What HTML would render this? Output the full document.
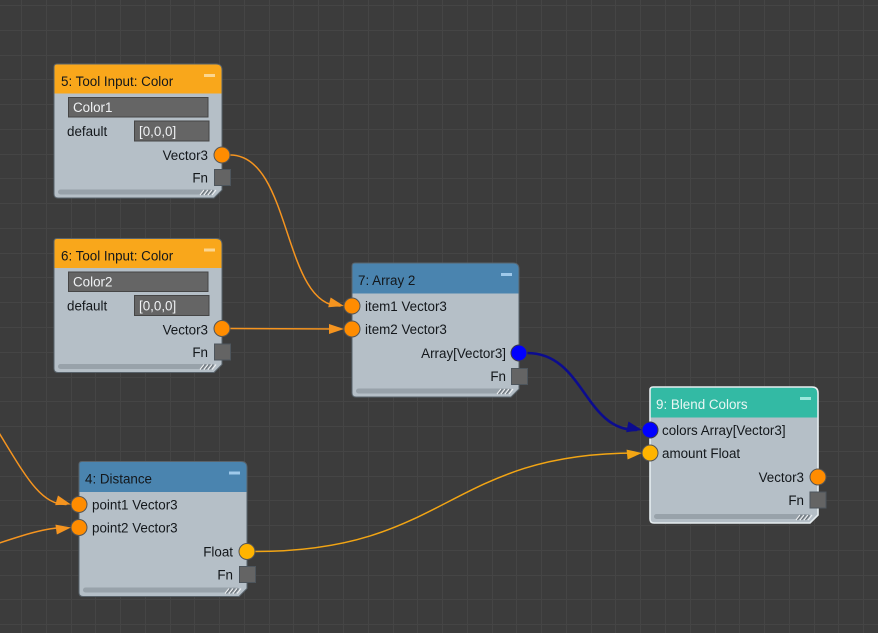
<!DOCTYPE html>
<html>
<head>
<meta charset="utf-8">
<style>
  html,body{margin:0;padding:0;background:#3c3c3c;}
  svg{display:block;}
  text{font-family:"Liberation Sans",Arial,sans-serif;font-size:13.4px;fill:#13171b;}
  .fld{fill:#f0f2f4;}
  .lt{fill:#eaf6f4;}
</style>
</head>
<body>
<svg width="878" height="633" viewBox="0 0 878 633" xmlns="http://www.w3.org/2000/svg">
  <rect x="0" y="0" width="878" height="633" fill="#3c3c3c"/>
  <g stroke="#454545" stroke-width="1" shape-rendering="crispEdges" fill="none">
    <path d="M21.5,0V633 M46.5,0V633 M71.5,0V633 M95.5,0V633 M120.5,0V633 M145.5,0V633 M170.5,0V633 M194.5,0V633 M219.5,0V633 M244.5,0V633 M269.5,0V633 M293.5,0V633 M318.5,0V633 M343.5,0V633 M368.5,0V633 M393.5,0V633 M417.5,0V633 M442.5,0V633 M467.5,0V633 M492.5,0V633 M516.5,0V633 M541.5,0V633 M566.5,0V633 M591.5,0V633 M615.5,0V633 M640.5,0V633 M665.5,0V633 M690.5,0V633 M715.5,0V633 M739.5,0V633 M764.5,0V633 M789.5,0V633 M814.5,0V633 M838.5,0V633 M863.5,0V633"/>
    <path d="M0,5.5H878 M0,30.5H878 M0,55.5H878 M0,79.5H878 M0,104.5H878 M0,129.5H878 M0,154.5H878 M0,178.5H878 M0,203.5H878 M0,228.5H878 M0,253.5H878 M0,277.5H878 M0,302.5H878 M0,327.5H878 M0,352.5H878 M0,377.5H878 M0,401.5H878 M0,426.5H878 M0,451.5H878 M0,476.5H878 M0,500.5H878 M0,525.5H878 M0,550.5H878 M0,575.5H878 M0,599.5H878 M0,624.5H878"/>
  </g>

  <!-- connectors -->
  <g fill="none" stroke-linecap="round">
    <path d="M230,155 C292,155 282,306 340,306" stroke="#f5941f" stroke-width="1.5"/>
    <path d="M230,328.5 L340,329" stroke="#f5941f" stroke-width="1.5"/>
    <path d="M527,353 C584,353 584,430 636,430" stroke="#0c0c8e" stroke-width="2.6"/>
    <path d="M255,551.5 C448,551.5 448,453 636,453" stroke="#f2a514" stroke-width="1.5"/>
    <path d="M-20,403 C20,463 35,504.5 66,504.5" stroke="#f5941f" stroke-width="1.5"/>
    <path d="M-40,556 C10,540 40,527.5 66,527.5" stroke="#f5941f" stroke-width="1.5"/>
  </g>
  <!-- arrowheads -->
  <polygon points="0,0 -15,-5 -15,5" fill="#f5941f" transform="translate(344,306) rotate(14)"/>
  <polygon points="0,0 -15,-5 -15,5" fill="#f5941f" transform="translate(344,329)"/>
  <polygon points="0,0 -15,-5.5 -15,5.5" fill="#0c0c8e" transform="translate(642,430) rotate(12)"/>
  <polygon points="0,0 -15,-5 -15,5" fill="#f2a514" transform="translate(642,453) rotate(-6)"/>
  <polygon points="0,0 -15,-5 -15,5" fill="#f5941f" transform="translate(71,504.5) rotate(16)"/>
  <polygon points="0,0 -15,-5 -15,5" fill="#f5941f" transform="translate(71,527.5) rotate(-8)"/>

  <!-- Node 5 -->
  <g transform="translate(54,64)">
    <path d="M3,0 H162 Q168,0 168,6 V126 L160,134 H4 Q0,134 0,130 V3 Q0,0 3,0 Z" fill="#b5bfc7"/>
    <path d="M3,0 H162 Q168,0 168,6 V29.5 H0 V3 Q0,0 3,0 Z" fill="#f9a71b"/>
    <path d="M3,0 H162 Q168,0 168,6 V126 L160,134 H4 Q0,134 0,130 V3 Q0,0 3,0 Z" fill="none" stroke="#59636b" stroke-width="1"/>
    <rect x="150" y="10" width="11" height="3" fill="#fbd690"/>
    <text x="7" y="22">5: Tool Input: Color</text>
    <rect x="14.5" y="33.5" width="139.5" height="19.5" fill="#656565" stroke="#454545" stroke-width="1"/>
    <text class="fld" x="19" y="48">Color1</text>
    <text x="13" y="72">default</text>
    <rect x="80.5" y="57" width="74.5" height="20" fill="#656565" stroke="#454545" stroke-width="1"/>
    <text class="fld" x="85" y="72">[0,0,0]</text>
    <text x="154" y="96" text-anchor="end">Vector3</text>
    <text x="154" y="118.5" text-anchor="end">Fn</text>
    <rect x="160.5" y="105.5" width="16" height="16" fill="#646464" stroke="#4d555c" stroke-width="1"/>
    <rect x="4" y="125.5" width="156" height="5" rx="2.5" fill="#98a2aa"/>
    <g stroke-width="1.1">
      <path d="M146,131 L150,126 M150,131 L154,126 M154,131 L158,126 M158,131 L162,126" stroke="#eef0f2"/>
      <path d="M147.5,131 L151.5,126 M151.5,131 L155.5,126 M155.5,131 L159.5,126" stroke="#6a7279"/>
    </g>
    <circle cx="168" cy="91" r="8" fill="#ff8c00" stroke="#555" stroke-width="1"/>
  </g>

  <!-- Node 6 -->
  <g transform="translate(54,238.5)">
    <path d="M3,0 H162 Q168,0 168,6 V126 L160,134 H4 Q0,134 0,130 V3 Q0,0 3,0 Z" fill="#b5bfc7"/>
    <path d="M3,0 H162 Q168,0 168,6 V29.5 H0 V3 Q0,0 3,0 Z" fill="#f9a71b"/>
    <path d="M3,0 H162 Q168,0 168,6 V126 L160,134 H4 Q0,134 0,130 V3 Q0,0 3,0 Z" fill="none" stroke="#59636b" stroke-width="1"/>
    <rect x="150" y="10" width="11" height="3" fill="#fbd690"/>
    <text x="7" y="22">6: Tool Input: Color</text>
    <rect x="14.5" y="33.5" width="139.5" height="19.5" fill="#656565" stroke="#454545" stroke-width="1"/>
    <text class="fld" x="19" y="48">Color2</text>
    <text x="13" y="72">default</text>
    <rect x="80.5" y="57" width="74.5" height="20" fill="#656565" stroke="#454545" stroke-width="1"/>
    <text class="fld" x="85" y="72">[0,0,0]</text>
    <text x="154" y="96" text-anchor="end">Vector3</text>
    <text x="154" y="118.5" text-anchor="end">Fn</text>
    <rect x="160.5" y="105.5" width="16" height="16" fill="#646464" stroke="#4d555c" stroke-width="1"/>
    <rect x="4" y="125.5" width="156" height="5" rx="2.5" fill="#98a2aa"/>
    <g stroke-width="1.1">
      <path d="M146,131 L150,126 M150,131 L154,126 M154,131 L158,126 M158,131 L162,126" stroke="#eef0f2"/>
      <path d="M147.5,131 L151.5,126 M151.5,131 L155.5,126 M155.5,131 L159.5,126" stroke="#6a7279"/>
    </g>
    <circle cx="168" cy="90" r="8" fill="#ff8c00" stroke="#555" stroke-width="1"/>
  </g>

  <!-- Node 7 -->
  <g transform="translate(352,263)">
    <path d="M3,0 H161 Q167,0 167,6 V126 L159,134 H4 Q0,134 0,130 V3 Q0,0 3,0 Z" fill="#b5bfc7"/>
    <path d="M3,0 H161 Q167,0 167,6 V30.5 H0 V3 Q0,0 3,0 Z" fill="#4a84af"/>
    <path d="M3,0 H161 Q167,0 167,6 V126 L159,134 H4 Q0,134 0,130 V3 Q0,0 3,0 Z" fill="none" stroke="#59636b" stroke-width="1"/>
    <rect x="149" y="10" width="11" height="3" fill="#9fc9ea"/>
    <text x="6" y="22">7: Array 2</text>
    <text x="13" y="48">item1 Vector3</text>
    <text x="13" y="71">item2 Vector3</text>
    <text x="154" y="95" text-anchor="end">Array[Vector3]</text>
    <text x="154" y="118" text-anchor="end">Fn</text>
    <rect x="159.5" y="105.5" width="16" height="16" fill="#646464" stroke="#4d555c" stroke-width="1"/>
    <rect x="4" y="125.5" width="155" height="5" rx="2.5" fill="#98a2aa"/>
    <g stroke-width="1.1">
      <path d="M145,131 L149,126 M149,131 L153,126 M153,131 L157,126 M157,131 L161,126" stroke="#eef0f2"/>
      <path d="M146.5,131 L150.5,126 M150.5,131 L154.5,126 M154.5,131 L158.5,126" stroke="#6a7279"/>
    </g>
    <circle cx="0" cy="43" r="8" fill="#ff8c00" stroke="#555" stroke-width="1"/>
    <circle cx="0" cy="66" r="8" fill="#ff8c00" stroke="#555" stroke-width="1"/>
    <circle cx="167" cy="90" r="8" fill="#0000ff" stroke="#3a3a4a" stroke-width="1"/>
  </g>

  <!-- Node 9 -->
  <g transform="translate(650,387)">
    <path d="M3,0 H162 Q168,0 168,6 V128 L160,136 H4 Q0,136 0,132 V3 Q0,0 3,0 Z" fill="#b5bfc7"/>
    <path d="M3,0 H162 Q168,0 168,6 V30.5 H0 V3 Q0,0 3,0 Z" fill="#33baa4"/>
    <path d="M3,0 H162 Q168,0 168,6 V128 L160,136 H4 Q0,136 0,132 V3 Q0,0 3,0 Z" fill="none" stroke="#e6edf0" stroke-width="1.6"/>
    <rect x="150" y="10" width="11" height="3" fill="#9ce8dc"/>
    <text class="lt" x="6" y="22">9: Blend Colors</text>
    <text x="12" y="48">colors Array[Vector3]</text>
    <text x="12" y="71">amount Float</text>
    <text x="154" y="95" text-anchor="end">Vector3</text>
    <text x="154" y="118" text-anchor="end">Fn</text>
    <rect x="160" y="105" width="16" height="16" fill="#646464" stroke="#4d555c" stroke-width="1"/>
    <rect x="4" y="127" width="156" height="5" rx="2.5" fill="#98a2aa"/>
    <g stroke-width="1.1">
      <path d="M146,133 L150,128 M150,133 L154,128 M154,133 L158,128 M158,133 L162,128" stroke="#eef0f2"/>
      <path d="M147.5,133 L151.5,128 M151.5,133 L155.5,128 M155.5,133 L159.5,128" stroke="#6a7279"/>
    </g>
    <circle cx="0" cy="43" r="8" fill="#0000ff" stroke="#3a3a4a" stroke-width="1"/>
    <circle cx="0" cy="66" r="8" fill="#ffb400" stroke="#555" stroke-width="1"/>
    <circle cx="168" cy="90" r="8" fill="#ff8c00" stroke="#555" stroke-width="1"/>
  </g>

  <!-- Node 4 -->
  <g transform="translate(79,461.5)">
    <path d="M3,0 H162 Q168,0 168,6 V127 L160,135 H4 Q0,135 0,131 V3 Q0,0 3,0 Z" fill="#b5bfc7"/>
    <path d="M3,0 H162 Q168,0 168,6 V30.5 H0 V3 Q0,0 3,0 Z" fill="#4a84af"/>
    <path d="M3,0 H162 Q168,0 168,6 V127 L160,135 H4 Q0,135 0,131 V3 Q0,0 3,0 Z" fill="none" stroke="#59636b" stroke-width="1"/>
    <rect x="150" y="10" width="11" height="3" fill="#9fc9ea"/>
    <text x="6" y="22">4: Distance</text>
    <text x="13" y="48">point1 Vector3</text>
    <text x="13" y="71">point2 Vector3</text>
    <text x="154" y="95" text-anchor="end">Float</text>
    <text x="154" y="118" text-anchor="end">Fn</text>
    <rect x="160.5" y="105" width="16" height="16" fill="#646464" stroke="#4d555c" stroke-width="1"/>
    <rect x="4" y="126" width="156" height="5" rx="2.5" fill="#98a2aa"/>
    <g stroke-width="1.1">
      <path d="M146,132 L150,127 M150,132 L154,127 M154,132 L158,127 M158,132 L162,127" stroke="#eef0f2"/>
      <path d="M147.5,132 L151.5,127 M151.5,132 L155.5,127 M155.5,132 L159.5,127" stroke="#6a7279"/>
    </g>
    <circle cx="0" cy="43" r="8" fill="#ff8c00" stroke="#555" stroke-width="1"/>
    <circle cx="0" cy="66" r="8" fill="#ff8c00" stroke="#555" stroke-width="1"/>
    <circle cx="168" cy="90" r="8" fill="#ffb400" stroke="#555" stroke-width="1"/>
  </g>
</svg>
</body>
</html>
